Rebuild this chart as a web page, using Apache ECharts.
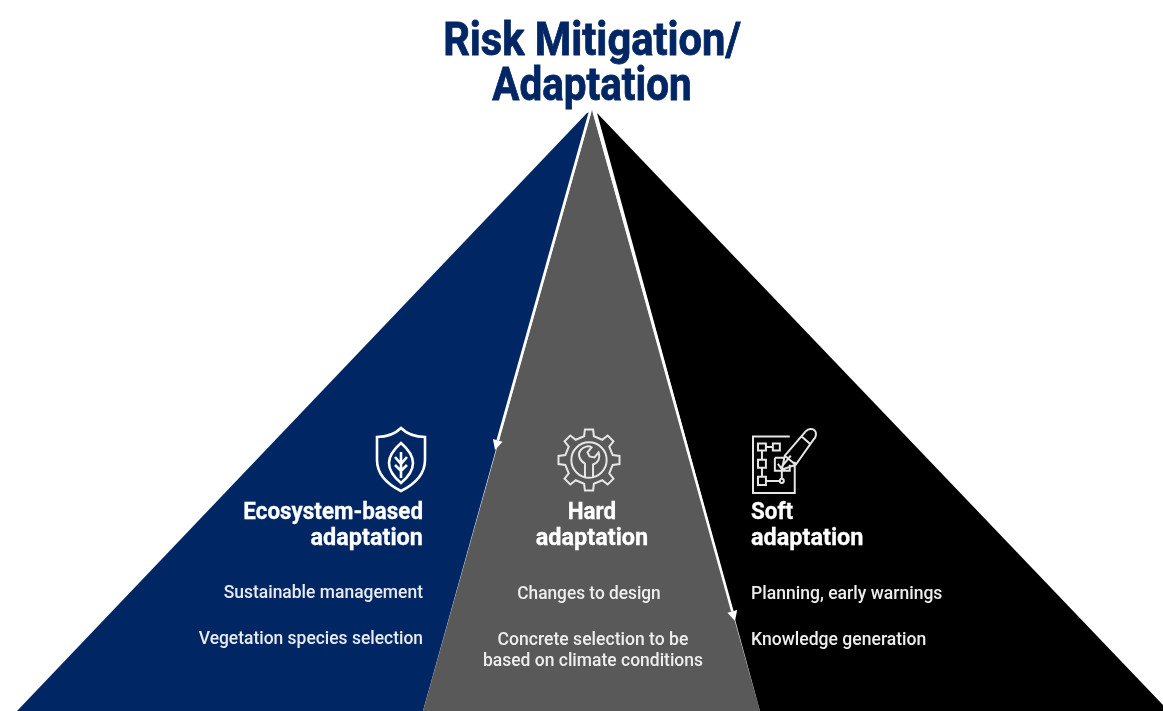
<!DOCTYPE html>
<html>
<head>
<meta charset="utf-8">
<script src="https://cdn.jsdelivr.net/npm/echarts@6/dist/echarts.min.js"></script>
<style>html,body{margin:0;padding:0;background:#fff}#main{width:1163px;height:711px}</style>
</head>
<body>
<div id="main"></div>
<script>
var titleLines = ['Risk Mitigation/', 'Adaptation'];
var sliceNames = ['Ecosystem-based adaptation', 'Hard adaptation', 'Soft adaptation'];
var sliceColors = ['#002663', '#595959', '#000000'];

// pyramid outline in pixels
var blueSlice = [[587, 113], [17, 711], [423, 711], [590, 112]];
var greySlice = [[592, 110], [423, 711], [760, 711]];
var blackSlice = [[597, 113], [1163, 705], [1163, 711], [760, 711]];
var arrowStarts = [[590, 112], [594, 112]];
var arrowTips = [[495, 450], [735, 621]];

var ecoHeading = ['Ecosystem-based', 'adaptation'];
var hardHeading = ['Hard', 'adaptation'];
var softHeading = ['Soft', 'adaptation'];
var ecoItems = ['Sustainable management', 'Vegetation species selection'];
var hardItems = ['Changes to design', 'Concrete selection to be', 'based on climate conditions'];
var softItems = ['Planning, early warnings', 'Knowledge generation'];

var FONT = 'Roboto, sans-serif';
var slices = [blueSlice, greySlice, blackSlice];

function gearPath(R, r, n) {
    var d = '';
    var step = Math.PI * 2 / n;
    for (var i = 0; i < n; i++) {
        var a = -Math.PI / 2 + i * step;
        var w = step * 0.17, w2 = step * 0.26;
        var pts = [[r, a - w2], [R, a - w], [R, a + w], [r, a + w2]];
        pts.forEach(function (p, k) {
            d += ((i === 0 && k === 0) ? 'M' : 'L') + (R + p[0] * Math.cos(p[1])).toFixed(2) + ' ' + (R + p[0] * Math.sin(p[1])).toFixed(2);
        });
    }
    return d + 'Z';
}

var shieldIcon = 'M24 0C30 6 38 9 48 9L48 32C48 48 36 57 24 63C12 57 0 48 0 32L0 9C10 9 18 6 24 0Z'
    + 'M24 15C32 22 36 28 36 35C36 44 30 50 24 55C18 50 12 44 12 35C12 28 16 22 24 15Z'
    + 'M24 24L24 50M18 29L24 36L30 29M18 37L24 43L30 37';
var gearIcon = gearPath(30.5, 24, 8)
    + 'M30.5 13A17.5 17.5 0 1 1 30.49 13Z'
    + 'M26.5 47L26.5 34C21 31 19 25 22 21C25 17 30 16 33 18L29 23L31 27L36 28L40 23C42 28 40 33 34.5 35L34.5 47';
var planIcon = 'M37 8L0 8L0 64L42 64L42 33'
    + 'M5 15L13 15L13 22L5 22ZM20 15L27 15L27 22L20 22ZM13 18.5L20 18.5'
    + 'M5 31L13 31L13 39L5 39ZM5 48L13 48L13 56L5 56ZM9 22L9 31M9 39L9 48M13 52L27 52'
    + 'M27 52A2 2 0 1 1 31 52A2 2 0 1 1 27 52ZM29 50L29 42'
    + 'M22 29L31 29M37 36L37 42L22 42L22 29'
    + 'M25 35L28 39L38 27'
    + 'M29 41L32 27L53 3C56 0 60 0 62 2C64 4 64 8 61 11L43 36ZM32 27L43 36M49 8L57 15';

var icons = [
    {path: shieldIcon, at: [377, 428], size: [48, 63]},
    {path: gearIcon, at: [558.5, 429.5], size: [61, 61]},
    {path: planIcon, at: [753, 429], size: [63, 64]}
];

// Roboto squeezed sideways, the reference type is a condensed face
function row(text, x, y, align, size, weight, squeeze, color, thicken) {
    return {text: text, x: x, y: y, align: align, size: size, weight: weight, squeeze: squeeze, color: color, thicken: thicken || 0};
}
var texts = [
    row(titleLines[0], 592, 43, 'center', 46, 'bold', 0.905, '#002663', 0.8),
    row(titleLines[1], 592, 88, 'center', 46, 'bold', 0.878, '#002663', 0.8),
    row(ecoHeading[0], 423, 513, 'right', 24, 'bold', 0.933, '#fff', 0.3),
    row(ecoHeading[1], 423, 539, 'right', 24, 'bold', 0.977, '#fff', 0.3),
    row(hardHeading[0], 592, 513, 'center', 24, 'bold', 0.933, '#fff', 0.3),
    row(hardHeading[1], 592, 539, 'center', 24, 'bold', 0.977, '#fff', 0.3),
    row(softHeading[0], 751, 513, 'left', 24, 'bold', 0.933, '#fff', 0.3),
    row(softHeading[1], 751, 539, 'left', 24, 'bold', 0.977, '#fff', 0.3),
    row(ecoItems[0], 423, 593, 'right', 19, 500, 0.92, '#e8ecf2'),
    row(ecoItems[1], 423, 639, 'right', 19, 500, 0.918, '#e8ecf2'),
    row(hardItems[0], 589, 594, 'center', 19, 500, 0.91, '#eee'),
    row(hardItems[1], 593, 640, 'center', 19, 500, 0.925, '#eee'),
    row(hardItems[2], 593, 661, 'center', 19, 500, 0.92, '#eee'),
    row(softItems[0], 751, 594, 'left', 19, 500, 0.924, '#eee'),
    row(softItems[1], 751, 640, 'left', 19, 500, 0.925, '#eee')
];

var myChart = echarts.init(document.getElementById('main'));

var option = {
    animation: false,
    backgroundColor: '#fff',
    grid: {left: 0, right: 0, top: 0, bottom: 0},
    xAxis: {type: 'value', min: 0, max: 1163, show: false},
    yAxis: {type: 'value', min: 0, max: 711, inverse: true, show: false},
    series: [
        {
            // the three slices
            type: 'custom',
            name: 'slices',
            silent: true,
            clip: false,
            z: 1,
            data: sliceNames.map(function (n, i) { return [i]; }),
            encode: {x: 0},
            renderItem: function (params, api) {
                var i = api.value(0);
                return {
                    type: 'polygon',
                    shape: {points: slices[i].map(function (p) { return api.coord(p); })},
                    style: {fill: sliceColors[i]}
                };
            }
        },
        {
            // white arrows between the slices
            type: 'custom',
            name: 'arrows',
            silent: true,
            clip: false,
            z: 2,
            data: arrowTips.map(function (n, i) { return [i]; }),
            encode: {x: 0},
            renderItem: function (params, api) {
                var i = api.value(0);
                var a = api.coord(arrowStarts[i]);
                var b = api.coord(arrowTips[i]);
                var len = Math.sqrt((b[0] - a[0]) * (b[0] - a[0]) + (b[1] - a[1]) * (b[1] - a[1]));
                var ux = (b[0] - a[0]) / len, uy = (b[1] - a[1]) / len;
                var bx = b[0] - ux * 10, by = b[1] - uy * 10;
                return {
                    type: 'group',
                    children: [
                        {type: 'line', shape: {x1: a[0], y1: a[1], x2: bx, y2: by}, style: {stroke: '#fff', lineWidth: 2.6}},
                        {type: 'polygon', shape: {points: [b, [bx - uy * 5, by + ux * 5], [bx + uy * 5, by - ux * 5]]}, style: {fill: '#fff'}}
                    ]
                };
            }
        },
        {
            // line icons above each heading
            type: 'custom',
            name: 'icons',
            silent: true,
            clip: false,
            z: 3,
            data: icons.map(function (n, i) { return [i]; }),
            encode: {x: 0},
            renderItem: function (params, api) {
                var ic = icons[api.value(0)];
                var p = api.coord(ic.at);
                return {
                    type: 'path',
                    shape: {pathData: ic.path, layout: 'cover', x: p[0], y: p[1], width: ic.size[0], height: ic.size[1]},
                    style: {fill: 'none', stroke: api.value(0) === 0 ? '#fff' : '#e6e6e6', lineWidth: api.value(0) === 0 ? 2.6 : 2}
                };
            }
        },
        {
            type: 'custom',
            name: 'text',
            silent: true,
            clip: false,
            z: 4,
            data: texts.map(function (n, i) { return [i]; }),
            encode: {x: 0},
            renderItem: function (params, api) {
                var t = texts[api.value(0)];
                var p = api.coord([t.x, t.y]);
                return {
                    type: 'text',
                    x: p[0],
                    y: p[1],
                    scaleX: t.squeeze,
                    style: {
                        x: 0, y: 0, text: t.text, fill: t.color,
                        stroke: t.thicken ? t.color : null,
                        lineWidth: t.thicken,
                        font: t.weight + ' ' + t.size + 'px ' + FONT,
                        align: t.align, verticalAlign: 'middle'
                    }
                };
            }
        }
    ]
};

myChart.setOption(option);
</script>
</body>
</html>
